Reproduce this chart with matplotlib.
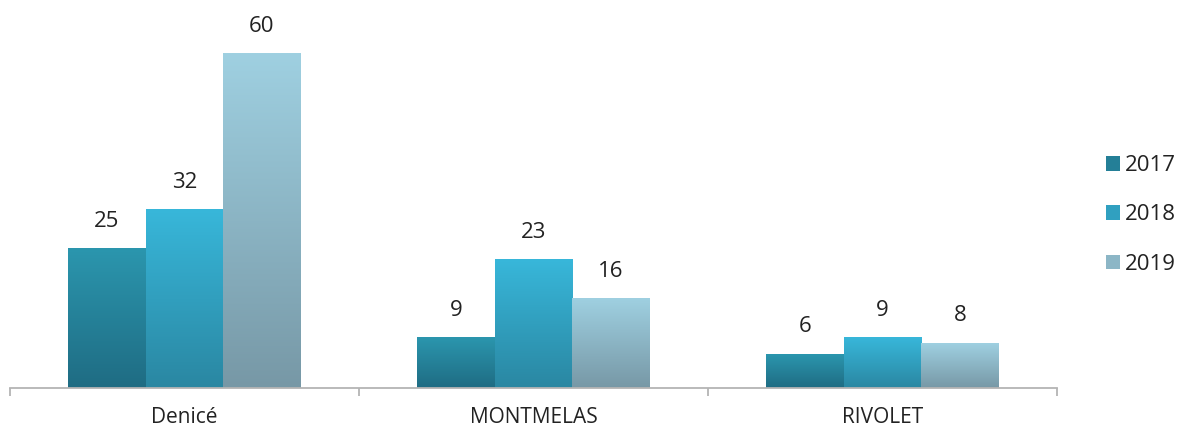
import matplotlib.pyplot as plt
import numpy as np
from matplotlib.colors import LinearSegmentedColormap
from matplotlib.patches import Patch

plt.rcParams['font.family'] = ['Open Sans', 'DejaVu Sans']

categories = ['Denicé', 'MONTMELAS', 'RIVOLET']
years = ['2017', '2018', '2019']
values = {
    '2017': [25, 9, 6],
    '2018': [32, 23, 9],
    '2019': [60, 16, 8],
}
# (top colour, bottom colour) of each series gradient
grad = {
    '2017': ('#2b96ae', '#1f6c83'),
    '2018': ('#38b7da', '#2a87a2'),
    '2019': ('#9fd0e1', '#7798a6'),
}
legend_colors = ['#247f97', '#30a0c0', '#8cb6c6']

fig = plt.figure(figsize=(11.78, 4.30), dpi=100)
ax = fig.add_axes([10 / 1178, 42 / 430, 1047 / 1178, 388 / 430])

x = np.arange(len(categories))
bw = 0.222
ramp = np.linspace(0, 1, 256).reshape(-1, 1)

for i, yr in enumerate(years):
    pos = x + (i - 1) * bw
    bars = ax.bar(pos, values[yr], width=bw, facecolor='none', edgecolor='none')
    cmap = LinearSegmentedColormap.from_list(yr, [grad[yr][1], grad[yr][0]])
    for b, v in zip(bars, values[yr]):
        x0, h = b.get_x(), b.get_height()
        ax.imshow(ramp, cmap=cmap, origin='lower', aspect='auto',
                  extent=[x0, x0 + bw, 0, h], zorder=2)
        ax.annotate(str(v), (x0 + bw / 2, h), xytext=(0, 20),
                    textcoords='offset points', ha='center', va='center',
                    fontsize=16, color='#222222')

ax.set_xlim(-0.5, 2.5)
ax.set_ylim(0, 69.7)

for s in ['top', 'right', 'left']:
    ax.spines[s].set_visible(False)
ax.spines['bottom'].set_color('#b4b4b4')
ax.spines['bottom'].set_linewidth(1.3)
ax.set_yticks([])
ax.set_xticks([-0.5, 0.5, 1.5, 2.5])
ax.set_xticklabels([])
ax.tick_params(axis='x', which='major', length=6, width=1.3, color='#b4b4b4')
ax.set_xticks(x, minor=True)
ax.set_xticklabels(categories, minor=True, fontsize=15, color='#222222')
ax.tick_params(axis='x', which='minor', length=0, pad=14)

handles = [Patch(facecolor=c, edgecolor='none') for c in legend_colors]
fig.legend(handles, years, loc='center left', bbox_to_anchor=(1086 / 1178, 1 - 215 / 430),
           frameon=False, fontsize=16, handlelength=0.63, handleheight=0.63,
           handletextpad=0.2, labelspacing=1.28, labelcolor='#222222')

fig.savefig('out.png', dpi=100)
